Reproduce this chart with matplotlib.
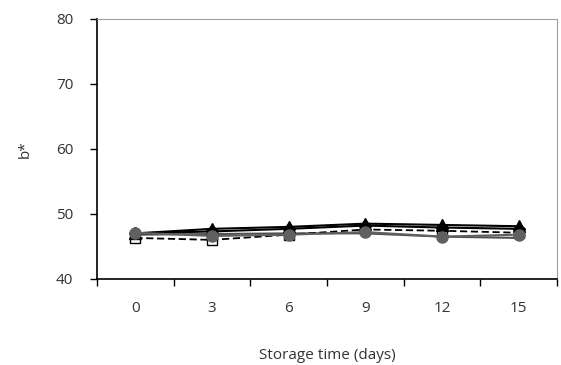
import matplotlib
matplotlib.use("Agg")
import matplotlib.pyplot as plt
import numpy as np

plt.rcParams['font.family'] = ['Open Sans', 'DejaVu Sans']

days = ["0", "3", "6", "9", "12", "15"]
series_a = [47.0, 47.7, 48.0, 48.5, 48.3, 48.1]   # black solid, triangles
series_b = [47.0, 47.3, 47.7, 48.2, 47.9, 47.7]   # black solid, diamonds
series_c = [46.3, 46.0, 46.8, 47.6, 47.4, 47.1]   # black dashed, open squares
series_d = [46.8, 46.9, 47.0, 47.0, 46.5, 46.3]   # dark gray solid
series_e = [47.1, 46.6, 46.8, 47.2, 46.5, 46.8]   # gray circles

fig = plt.figure(figsize=(5.61, 3.65), dpi=100)
ax = fig.add_axes([0.173, 0.236, 0.820, 0.712])
x = np.arange(len(days))

ax.plot(x, series_d, color='#505050', lw=1.5, zorder=2)
ax.plot(x, series_c, color='black', lw=1.3, ls=(0, (4, 2)), marker='s',
        markersize=7, markerfacecolor='white', markeredgecolor='black', zorder=3)
ax.plot(x, series_b, color='black', lw=1.5, marker='D', markersize=6, zorder=3)
ax.plot(x, series_a, color='black', lw=1.5, marker='^', markersize=8, zorder=4)
ax.plot(x, series_e, color='#606060', lw=1.5, marker='o', markersize=8,
        markeredgecolor='#606060', zorder=5)

ax.set_xlim(-0.5, 5.5)
ax.set_ylim(40, 80)
ax.set_yticks([40, 50, 60, 70, 80])
ax.set_xticks(np.arange(-0.5, 6, 1))
ax.set_xticklabels([])
ax.set_xticks(x, minor=True)
ax.set_xticklabels(days, minor=True)
ax.tick_params(axis='x', which='major', direction='out', length=5, width=1, color='black')
ax.tick_params(axis='x', which='minor', length=0, pad=16, labelsize=11, labelcolor='#333333')
ax.tick_params(axis='y', direction='out', length=5, width=1, pad=12, labelsize=11, labelcolor='#333333')

for s in ['left', 'bottom']:
    ax.spines[s].set_color('black')
    ax.spines[s].set_linewidth(1.2)
for s in ['top', 'right']:
    ax.spines[s].set_color('#a0a0a0')
    ax.spines[s].set_linewidth(0.8)

ax.set_ylabel('b*', fontsize=11, color='#333333', labelpad=17)
ax.set_xlabel('Storage time (days)', fontsize=11, color='#333333', labelpad=23)

fig.savefig('out.png', dpi=100)
